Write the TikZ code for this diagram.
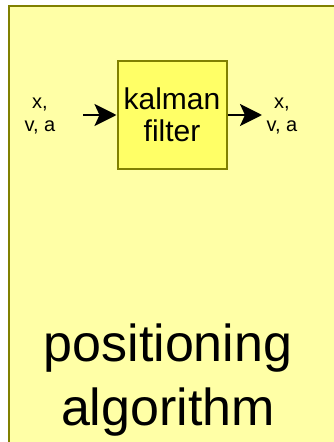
\documentclass[tikz,border=0pt]{standalone}
\usepackage{fontspec}
\setmainfont{Liberation Sans}
\usetikzlibrary{arrows.meta}
\definecolor{outerfill}{RGB}{255,255,166}
\definecolor{innerfill}{RGB}{255,255,102}
\definecolor{olive}{RGB}{128,128,0}
\begin{document}
\begin{tikzpicture}[x=1pt,y=-1pt,
  lbl/.style={align=center,font=\fontsize{20}{23}\selectfont,inner sep=0pt},
  arr/.style={line width=2.5pt,-{Stealth[length=22pt,width=22pt,inset=5pt]}}]
\useasboundingbox (0,0) rectangle (334,442);
\clip (0,0) rectangle (334,442);
\draw[olive,line width=2pt,fill=outerfill] (9,6) rectangle (345,452);
\node[draw=olive,line width=2pt,fill=innerfill,minimum width=109pt,minimum height=108pt,
  align=center,font=\fontsize{30}{32}\selectfont,inner sep=0pt] (kf) at (172,115) {kalman\\filter};
\node[lbl] (in) at (40,116) {x,\\v, a};
\node[lbl] (out) at (282,116) {x,\\v, a};
\coordinate (a1) at (83,115);
\coordinate (a2) at (262,115);
\draw[arr] (a1) -- (kf.west);
\draw[arr] (kf.east) -- (a2);
\node[align=center,font=\fontsize{52}{64}\selectfont,inner sep=0pt] (pa) at (168,380) {positioning\\algorithm};
\end{tikzpicture}
\end{document}
